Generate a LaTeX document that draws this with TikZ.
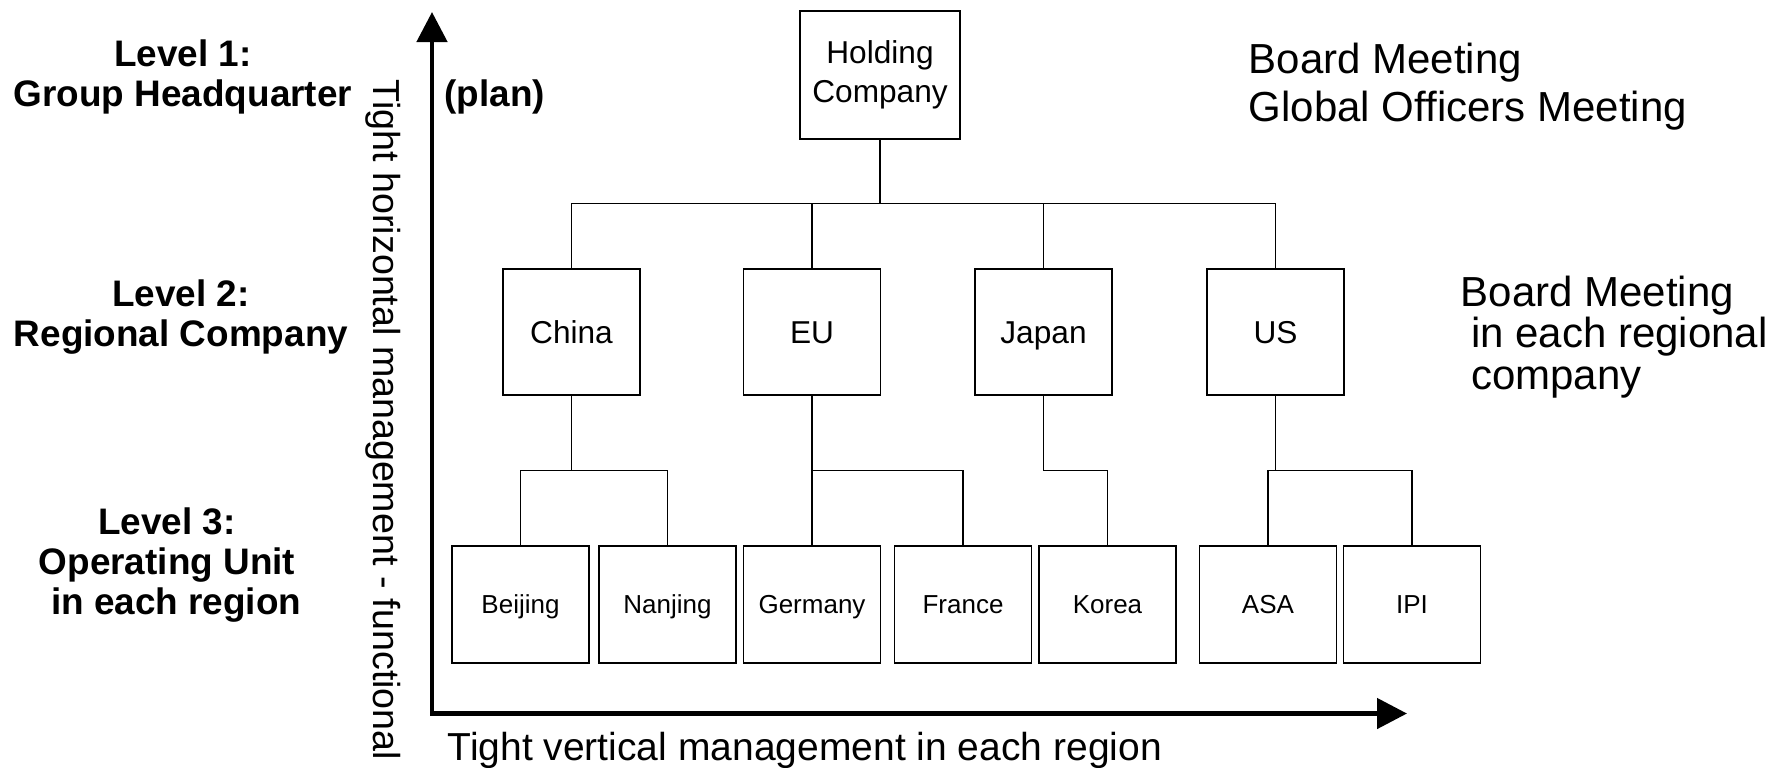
\documentclass[tikz,border=0pt]{standalone}
\usepackage{fontspec}
\setmainfont{Liberation Sans}
\usetikzlibrary{arrows.meta}

\begin{document}
\begin{tikzpicture}[thin,node distance=14.6mm]
  \tikzstyle{hq}=[rectangle,draw=black,fill=white,minimum width=16mm,minimum height=12.8mm,align=center,font=\fontsize{9}{11.1}\selectfont]
  \tikzstyle{region}=[rectangle,draw=black,fill=white,minimum width=13.7mm,minimum height=12.6mm,text height=2.25mm,text depth=0pt,font=\fontsize{9}{11}\selectfont]
  \tikzstyle{office}=[rectangle,draw=black,fill=white,minimum width=13.7mm,minimum height=11.7mm,text height=1.86mm,text depth=0pt,font=\fontsize{7.4}{9}\selectfont]
  \tikzstyle{lvltext}=[anchor=north,inner sep=0pt,align=center,font=\fontsize{10.5}{11.4}\selectfont\bfseries]
  \tikzstyle{meeting}=[anchor=north west,inner sep=0pt,align=left,font=\fontsize{11.95}{13.65}\selectfont]
  \tikzstyle{axislabel}=[inner sep=0pt,font=\fontsize{10.7}{12}\selectfont]

  \useasboundingbox (0,0) rectangle (178.4mm,-76.7mm);

  % the three levels
  \node[hq] (hold) at (88mm,-7.5mm) {Holding\\Company};

  \node[region] (china) at (57.15mm,-33.2mm) {China};
  \node[region] (eu)    [right of=china,node distance=24.05mm] {EU};
  \node[region] (japan) [right of=eu,node distance=23.15mm]    {Japan};
  \node[region] (us)    [right of=japan,node distance=23.2mm]  {US};

  \node[office] (beijing) at (52.05mm,-60.45mm) {Beijing};
  \node[office] (nanjing) [right of=beijing,node distance=14.7mm]  {Nanjing};
  \node[office] (germany) [right of=nanjing,node distance=14.45mm] {Germany};
  \node[office] (france)  [right of=germany,node distance=15.1mm]  {France};
  \node[office] (korea)   [right of=france,node distance=14.45mm]  {Korea};
  \node[office] (asa)     [right of=korea,node distance=16.05mm]   {ASA};
  \node[office] (ipi)     [right of=asa,node distance=14.4mm]      {IPI};

  \foreach \c in {china,eu,japan,us}
    \draw (hold.south) -- ++(0,-6.4mm) -| (\c.north);
  \draw (china.south) -- ++(0,-7.5mm) -| (beijing.north);
  \draw (china.south) -- ++(0,-7.5mm) -| (nanjing.north);
  \draw (eu.south)    -- ++(0,-7.5mm) -| (germany.north);
  \draw (eu.south)    -- ++(0,-7.5mm) -| (france.north);
  \draw (japan.south) -- ++(0,-7.5mm) -| (korea.north);
  \draw (us.south)    -- ++(0,-7.5mm) -| (asa.north);
  \draw (us.south)    -- ++(0,-7.5mm) -| (ipi.north);

  % axes
  \coordinate (origin) at (43.2mm,-71.35mm);
  \coordinate (ytip) at (43.2mm,-1.2mm);
  \coordinate (xtip) at (140.7mm,-71.35mm);
  \draw[{Triangle[length=3mm,width=3mm]}-{Triangle[length=3mm,width=3mm]},line width=1.34pt]
    (ytip) -- (origin) -- (xtip);

  \node[axislabel,rotate=-90,anchor=base] (vlabel) at (37.3mm,-42mm) {Tight horizontal management - functional};
  \node[axislabel,anchor=base west,font=\fontsize{11.1}{13}\selectfont] (hlabel) at (44.7mm,-76mm) {Tight vertical management in each region};
  \node[lvltext,anchor=base west] (plan) at (44.4mm,-10.6mm) {(plan)};

  % labels left and right
  \node[lvltext] (lev1) at (18.3mm,-3.9mm)  {Level 1:\\Group Headquarter};
  \node[lvltext] (lev2) at (18.1mm,-27.9mm) {Level 2:\\Regional Company};
  \node[lvltext] (lev3) at (16.7mm,-50.7mm) {Level 3:\\Operating Unit\\\hspace*{.5em}in each region};

  \node[meeting] (globalmeet) at (124.8mm,-4.2mm) {Board Meeting\\Global Officers Meeting};
  \node[meeting,font=\fontsize{11.95}{11.8}\selectfont] (regionmeet) at (146mm,-27.5mm)  {Board Meeting\\\hspace*{.25em}in each regional\\\hspace*{.25em}company};
\end{tikzpicture}
\end{document}
